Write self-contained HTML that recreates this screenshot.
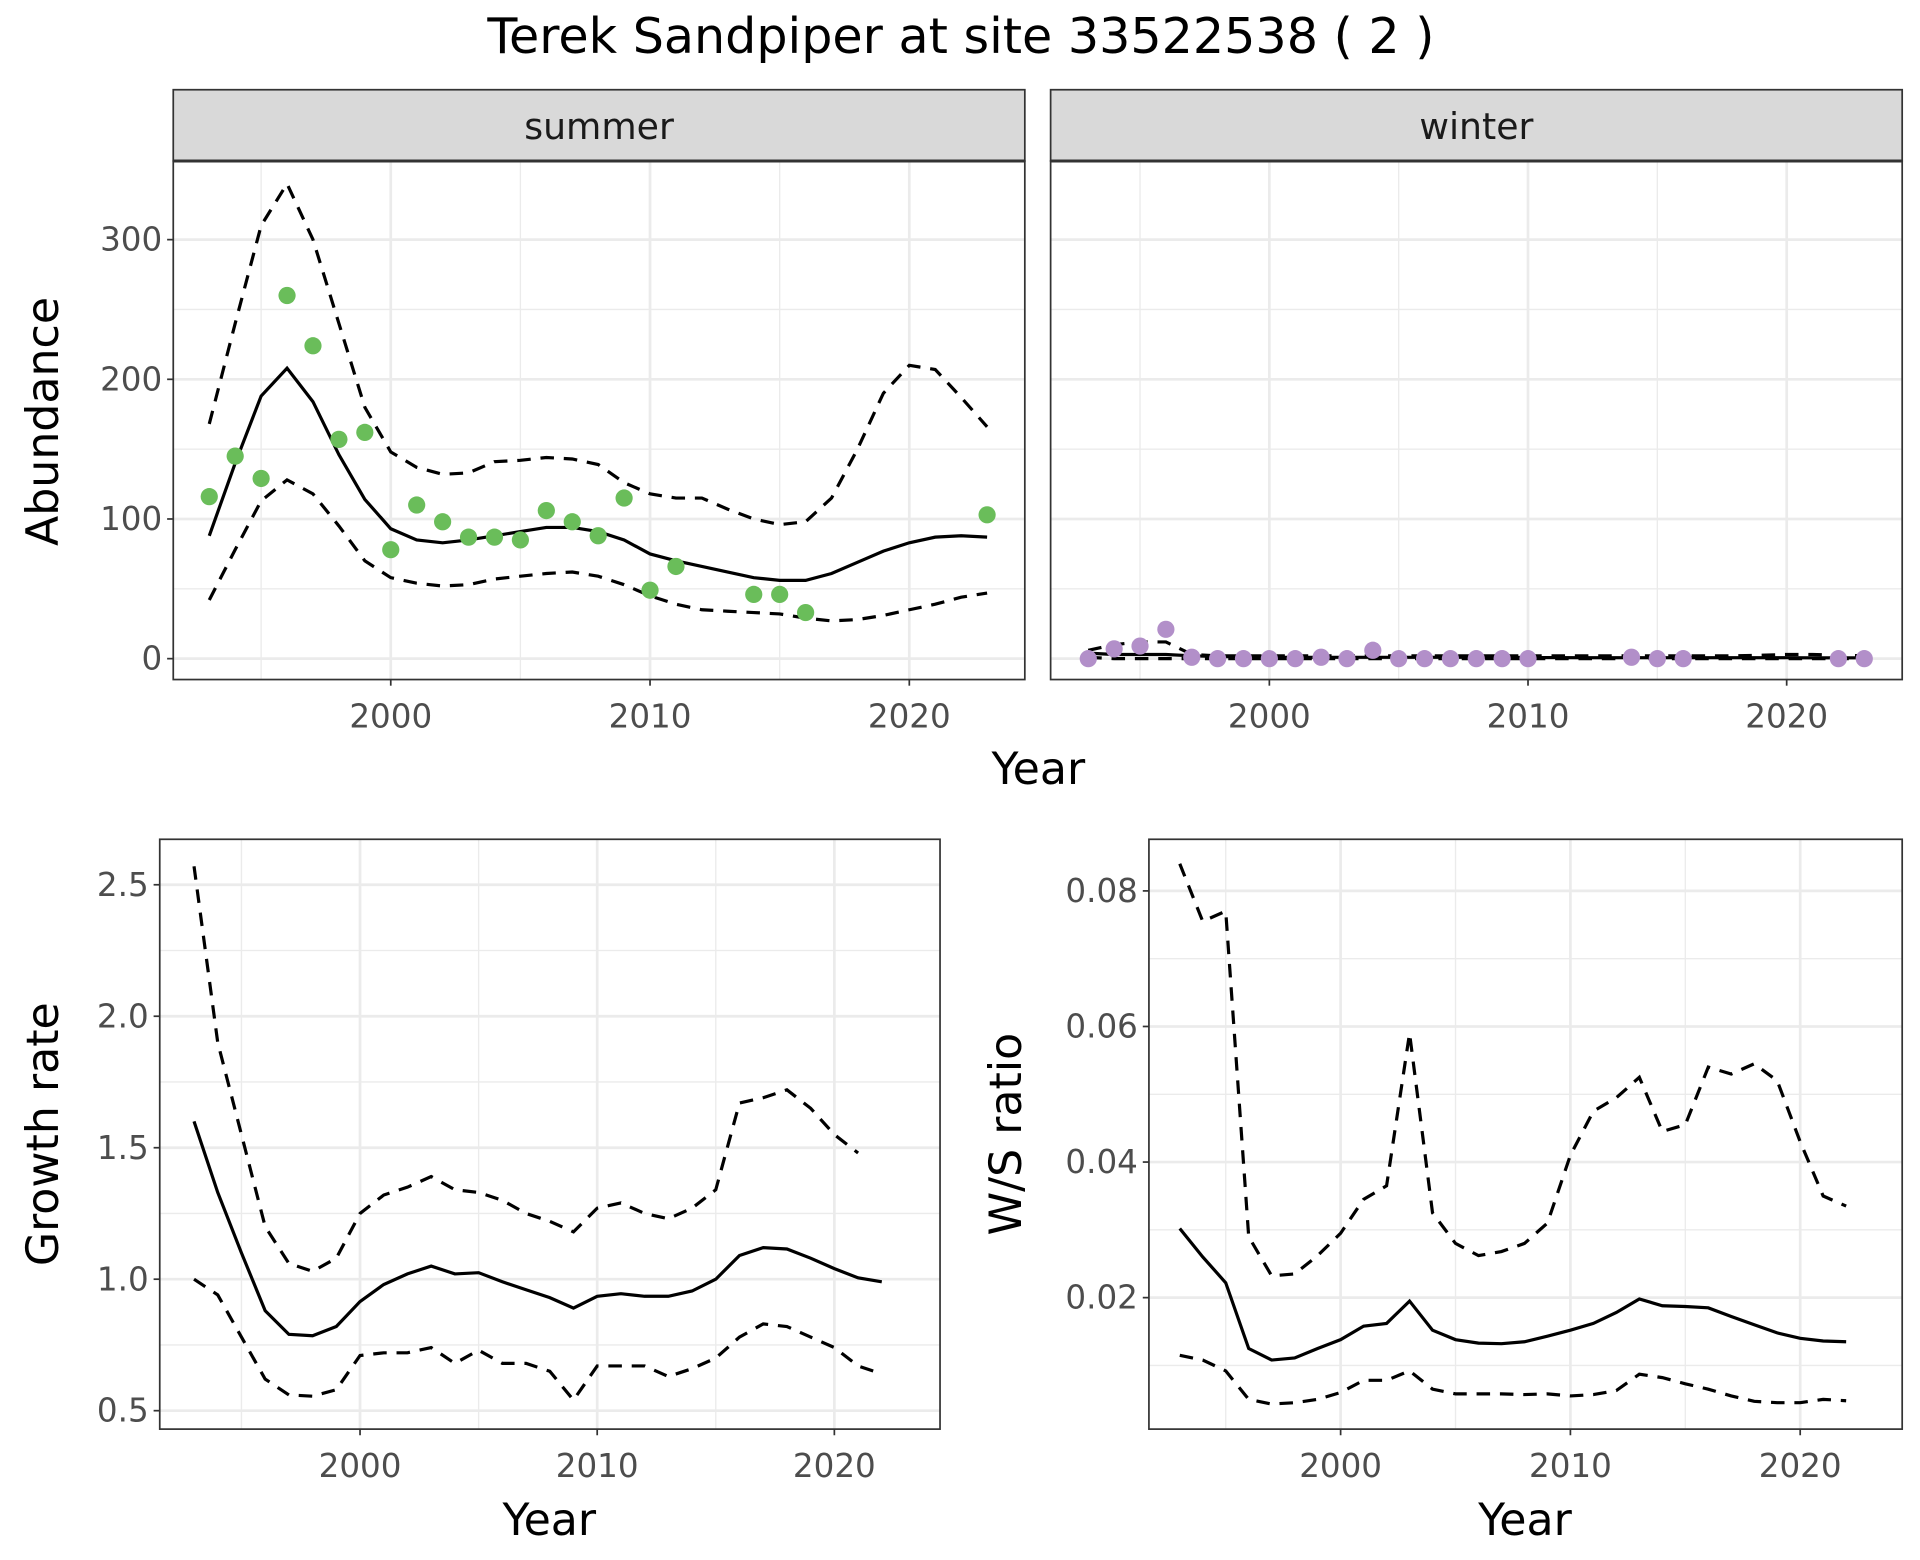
<!DOCTYPE html>
<html><head><meta charset="utf-8"><style>
html,body{margin:0;padding:0;background:#fff;}
svg{display:block;font-family:"DejaVu Sans","Liberation Sans",sans-serif;}
</style></head><body>
<svg id="chart" width="1920" height="1560" viewBox="0 0 1562.5 1269.5" xmlns="http://www.w3.org/2000/svg">
<rect width="1562.5" height="1269.5" fill="#fff"/>
<text x="782" y="43" font-size="40" text-anchor="middle" fill="#000">Terek Sandpiper at site 33522538 ( 2 )</text>
<g id="g"></g>
<text x="845" y="638" font-size="36" text-anchor="middle" fill="#000">Year</text>
<text transform="translate(47,343) rotate(-90)" font-size="36" text-anchor="middle" fill="#000">Abundance</text>
<text x="447" y="1249" font-size="36" text-anchor="middle" fill="#000">Year</text>
<text transform="translate(47,923) rotate(-90)" font-size="36" text-anchor="middle" fill="#000">Growth rate</text>
<text x="1241" y="1249" font-size="36" text-anchor="middle" fill="#000">Year</text>
<text transform="translate(831,923) rotate(-90)" font-size="36" text-anchor="middle" fill="#000">W/S ratio</text>
</svg>
<script>
const summerYears=[1993,1994,1995,1996,1997,1998,1999,2000,2001,2002,2003,2004,2005,2006,2007,2008,2009,2010,2011,2014,2015,2016,2023];
const summerCounts=[116,145,129,260,224,157,162,78,110,98,87,87,85,106,98,88,115,49,66,46,46,33,103];
const fitYears=[1993,1994,1995,1996,1997,1998,1999,2000,2001,2002,2003,2004,2005,2006,2007,2008,2009,2010,2011,2012,2013,2014,2015,2016,2017,2018,2019,2020,2021,2022,2023];
const summerMean=[88,140,188,208,184,146,114,93,85,83,85,88,91,94,94,91,85,75,70,66,62,58,56,56,61,69,77,83,87,88,87];
const summerUpper=[168,240,310,340,300,240,180,148,137,132,133,141,142,144,143,139,126,118,115,115,107,100,96,98,115,150,190,210,207,187,166];
const summerLower=[42,78,113,128,118,95,70,58,54,52,53,57,59,61,62,59,53,45,39,35,34,33,32,29,27,28,31,35,39,44,47];
const winterYears=[1993,1994,1995,1996,1997,1998,1999,2000,2001,2002,2003,2004,2005,2006,2007,2008,2009,2010,2014,2015,2016,2022,2023];
const winterCounts=[0,7,9,21,1,0,0,0,0,1,0,6,0,0,0,0,0,0,1,0,0,0,0];
const winterMean=[4,3,3,3,2,1.5,1.2,1,1,1,1,1,1,1,1,1,1,0.8,0.8,0.7,0.7,0.7,0.7,0.7,0.7,0.7,0.7,0.7,0.6,0.6,0.6];
const winterUpper=[6,10,12,12,3,2,2,2,2,2,2,2,2,2,2,2,2,2,2,2,2,2,2,2,2,2,2.5,3,3,2.5,2];
const winterLower=[1,0,0,0,0,0,0,0,0,0,0,0,0,0,0,0,0,0,0,0,0,0,0,0,0,0,0,0,0,0,0];
const rateYears=[1993,1994,1995,1996,1997,1998,1999,2000,2001,2002,2003,2004,2005,2006,2007,2008,2009,2010,2011,2012,2013,2014,2015,2016,2017,2018,2019,2020,2021,2022];
const growthMean=[1.60,1.33,1.10,0.88,0.79,0.785,0.82,0.915,0.98,1.02,1.05,1.02,1.025,0.99,0.96,0.93,0.89,0.935,0.945,0.935,0.935,0.955,1.00,1.09,1.12,1.115,1.08,1.04,1.005,0.99];
const growthUpper=[2.57,1.90,1.55,1.20,1.06,1.03,1.08,1.25,1.32,1.35,1.39,1.34,1.33,1.30,1.25,1.22,1.18,1.27,1.29,1.25,1.23,1.27,1.34,1.67,1.69,1.72,1.65,1.55,1.48,null];
const growthLower=[1.00,0.94,0.78,0.62,0.56,0.555,0.58,0.71,0.72,0.72,0.74,0.68,0.73,0.68,0.68,0.65,0.54,0.67,0.67,0.67,0.63,0.66,0.70,0.78,0.83,0.82,0.78,0.74,0.67,0.64];
const ratioMean=[0.0302,0.026,0.0222,0.0125,0.0108,0.0111,0.0125,0.0138,0.0158,0.0162,0.0195,0.0152,0.0138,0.0133,0.0132,0.0135,0.0143,0.0152,0.0162,0.0178,0.0198,0.0188,0.0187,0.0185,0.0172,0.0160,0.0148,0.0140,0.0136,0.0135];
const ratioUpper=[0.084,0.0755,0.077,0.029,0.0232,0.0235,0.0262,0.0295,0.0345,0.0365,0.059,0.0325,0.028,0.0262,0.0268,0.028,0.031,0.041,0.0475,0.0495,0.0525,0.0445,0.0455,0.054,0.053,0.0545,0.052,0.043,0.035,0.0335];
const ratioLower=[0.0115,0.0108,0.0092,0.005,0.0043,0.0045,0.005,0.006,0.0078,0.0078,0.0092,0.0065,0.0058,0.0058,0.0058,0.0057,0.0058,0.0055,0.0057,0.0063,0.0087,0.0082,0.0073,0.0065,0.0055,0.0047,0.0045,0.0045,0.005,0.0048];
const xTicks=[2000,2010,2020];
const xMinor=[1995,2005,2015];
const abundTicks=[0,100,200,300];
const abundMinor=[50,150,250];
const abundLabels=['0','100','200','300'];
const growthTicks=[0.5,1.0,1.5,2.0,2.5];
const growthMinor=[0.75,1.25,1.75,2.25];
const growthLabels=['0.5','1.0','1.5','2.0','2.5'];
const ratioTicks=[0.02,0.04,0.06,0.08];
const ratioMinor=[0.01,0.03,0.05,0.07];
const ratioLabels=['0.02','0.04','0.06','0.08'];

const NS='http://www.w3.org/2000/svg';
const root=document.getElementById('g');
function mk(tag,attrs,parent){const e=document.createElementNS(NS,tag);for(const k in attrs)e.setAttribute(k,attrs[k]);(parent||root).appendChild(e);return e;}

function panel(p){
  const g=mk('g',{});
  
  
  const sx=v=>p.xr[1]+(v-p.xr[0])*(p.xr[3]-p.xr[1])/(p.xr[2]-p.xr[0]);
  const sy=v=>p.yr[1]+(v-p.yr[0])*(p.yr[3]-p.yr[1])/(p.yr[2]-p.yr[0]);
  p.xMinor.forEach(v=>mk('line',{x1:sx(v),x2:sx(v),y1:p.y0,y2:p.y1,stroke:'#ebebeb','stroke-width':1.1},g));
  p.yMinor.forEach(v=>mk('line',{x1:p.x0,x2:p.x1,y1:sy(v),y2:sy(v),stroke:'#ebebeb','stroke-width':1.1},g));
  p.xTicks.forEach(v=>mk('line',{x1:sx(v),x2:sx(v),y1:p.y0,y2:p.y1,stroke:'#ebebeb','stroke-width':2.2},g));
  p.yTicks.forEach(v=>mk('line',{x1:p.x0,x2:p.x1,y1:sy(v),y2:sy(v),stroke:'#ebebeb','stroke-width':2.2},g));
  function line(xs,ys,dash,nm){
    let d='',pen=false;
    xs.forEach((x,i)=>{const y=ys[i];if(y===null||y===undefined){pen=false;return;}d+=(pen?'L':'M')+sx(x).toFixed(1)+','+sy(y).toFixed(1);pen=true;});
    const e=mk('path',{d:d,fill:'none',stroke:'#000','stroke-width':2.6,'stroke-dasharray':dash?'11,8':'none'},g);
    
    
  }
  line(p.fx,p.upper,true,'upper-ci-line');
  line(p.fx,p.lower,true,'lower-ci-line');
  line(p.fx,p.mean,false,'mean-line');
  if(p.px){p.px.forEach((x,i)=>{const c=mk('circle',{cx:sx(x),cy:sy(p.py[i]),r:7,fill:p.color},g);
    
    });}
  mk('rect',{x:p.x0,y:p.y0,width:p.x1-p.x0,height:p.y1-p.y0,fill:'none',stroke:'#333','stroke-width':1.4},g);
  p.xTicks.forEach(v=>{mk('line',{x1:sx(v),x2:sx(v),y1:p.y1,y2:p.y1+5,stroke:'#333','stroke-width':1.4},g);
    const t=mk('text',{x:sx(v),y:p.y1+39,'font-size':26.5,'text-anchor':'middle',fill:'#4d4d4d'},g);t.textContent=v;
    
    });
  if(p.yLabels){p.yTicks.forEach((v,i)=>{mk('line',{x1:p.x0-5,x2:p.x0,y1:sy(v),y2:sy(v),stroke:'#333','stroke-width':1.4},g);
    const t=mk('text',{x:p.x0-9,y:sy(v)+9,'font-size':26.5,'text-anchor':'end',fill:'#4d4d4d'},g);t.textContent=p.yLabels[i];
    
    });}
  if(p.strip){const s=mk('rect',{x:p.x0,y:p.y0-58,width:p.x1-p.x0,height:58,fill:'#d9d9d9',stroke:'#333','stroke-width':1.4},g);
    
    
    mk('line',{x1:p.x0,x2:p.x1,y1:p.y0,y2:p.y0,stroke:'#333','stroke-width':2.5},g);
    const t=mk('text',{x:(p.x0+p.x1)/2,y:p.y0-18,'font-size':29.5,'text-anchor':'middle',fill:'#1a1a1a'},g);t.textContent=p.strip;
    
    }
}
panel({name:'summer-panel',x0:141,x1:834,y0:131,y1:553,xr:[2000,318,2020,740],yr:[0,536,300,195],fx:fitYears,mean:summerMean,upper:summerUpper,lower:summerLower,px:summerYears,py:summerCounts,color:'#6abd5a',xTicks,xMinor,yTicks:abundTicks,yMinor:abundMinor,yLabels:abundLabels,strip:'summer'});
panel({name:'winter-panel',x0:855,x1:1548,y0:131,y1:553,xr:[2000,1033,2020,1454],yr:[0,536,300,195],fx:fitYears,mean:winterMean,upper:winterUpper,lower:winterLower,px:winterYears,py:winterCounts,color:'#b28fc9',xTicks,xMinor,yTicks:abundTicks,yMinor:abundMinor,yLabels:null,strip:'winter'});
panel({name:'growth-rate-panel',x0:130,x1:765,y0:683,y1:1163,xr:[2000,293,2020,679],yr:[0.5,1148,2.5,720],fx:rateYears,mean:growthMean,upper:growthUpper,lower:growthLower,xTicks,xMinor,yTicks:growthTicks,yMinor:growthMinor,yLabels:growthLabels});
panel({name:'ws-ratio-panel',x0:935,x1:1548,y0:683,y1:1163,xr:[2000,1091,2020,1465],yr:[0.02,1056,0.08,725],fx:rateYears,mean:ratioMean,upper:ratioUpper,lower:ratioLower,xTicks,xMinor,yTicks:ratioTicks,yMinor:ratioMinor,yLabels:ratioLabels});
</script>
</body></html>
